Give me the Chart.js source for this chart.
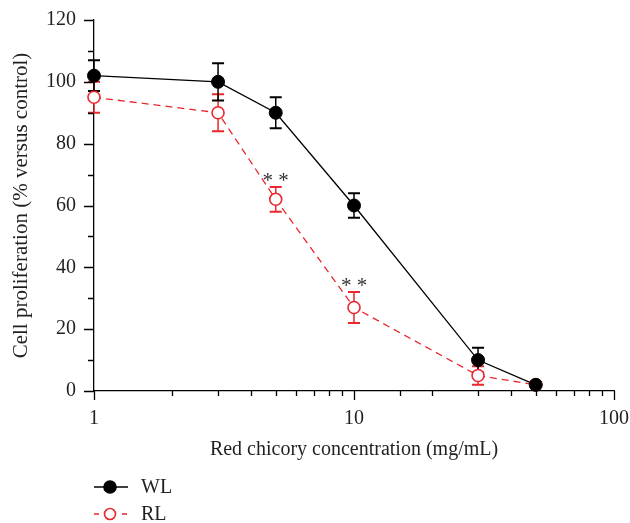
<!DOCTYPE html>
<html><head><meta charset="utf-8">
<script src="https://cdn.jsdelivr.net/npm/chart.js@4"></script>
<style>html,body{margin:0;padding:0;background:#fff}canvas{display:block}</style>
</head><body>
<canvas id="c" width="630" height="523"></canvas>
<script>
const concentrations = [1, 3, 5, 10, 30, 50];
const wlValues = [102, 100, 90, 60, 10, 2];
const wlErrors = [5, 6, 5, 4, 4, 0];
const rlValues = [95, 90, 62, 27, 5, 2];
const rlErrors = [5, 6, 4, 5, 3, 0];
const rlSignificance = ['', '', '**', '**', '', ''];
const seriesNames = ['WL', 'RL'];
const xTickLabels = [1, 10, 100];
const yTickLabels = [0, 20, 40, 60, 80, 100, 120];

const FONT = "'Liberation Serif', 'DejaVu Serif', serif";
const RED = '#e9272d';
const BLACK = '#000000';
const TEXT = '#231f20';

function toPoints(vals) { return concentrations.map((x, i) => ({x: x, y: vals[i]})); }

const errorBarPlugin = {
  id: 'errorBars',
  beforeDatasetsDraw(chart) {
    const ctx = chart.ctx, xs = chart.scales.x, ys = chart.scales.y;
    const sets = [[rlValues, rlErrors, RED], [wlValues, wlErrors, BLACK]];
    ctx.save();
    sets.forEach(([vals, errs, col]) => {
      ctx.strokeStyle = col;
      vals.forEach((v, i) => {
        if (!errs[i]) return;
        const x = xs.getPixelForValue(concentrations[i]);
        const yt = ys.getPixelForValue(v + errs[i]);
        const yb = ys.getPixelForValue(v - errs[i]);
        ctx.lineWidth = 1.5;
        ctx.beginPath(); ctx.moveTo(x, yt); ctx.lineTo(x, yb); ctx.stroke();
        ctx.lineWidth = 2;
        ctx.beginPath(); ctx.moveTo(x - 6, yt); ctx.lineTo(x + 6, yt);
        ctx.moveTo(x - 6, yb); ctx.lineTo(x + 6, yb); ctx.stroke();
      });
    });
    ctx.restore();
  },
  afterDatasetsDraw(chart) {
    const ctx = chart.ctx, xs = chart.scales.x, ys = chart.scales.y;
    ctx.save();
    ctx.fillStyle = '#333';
    ctx.font = '21px ' + FONT;
    ctx.textAlign = 'center';
    ctx.textBaseline = 'alphabetic';
    rlSignificance.forEach((s, i) => {
      if (!s) return;
      const x = xs.getPixelForValue(concentrations[i]);
      const y = ys.getPixelForValue(rlValues[i] + rlErrors[i]);
      ctx.fillText(s.split('').join(' '), x, y);
    });
    ctx.restore();
  }
};

const ticksPlugin = {
  id: 'axisTicks',
  afterDraw(chart) {
    const ctx = chart.ctx, xs = chart.scales.x, ys = chart.scales.y;
    ctx.save();
    ctx.strokeStyle = BLACK;
    ctx.lineWidth = 1.3;
    ctx.beginPath();
    xs.ticks.forEach(t => {
      const px = Math.round(xs.getPixelForValue(t.value)) + 0.5;
      const len = xTickLabels.includes(t.value) ? 9 : 5;
      ctx.moveTo(px, xs.top); ctx.lineTo(px, xs.top + len);
    });
    ys.ticks.forEach(t => {
      const py = Math.round(ys.getPixelForValue(t.value)) + 0.5;
      const len = yTickLabels.includes(t.value) ? 10 : 6;
      ctx.moveTo(ys.right - len, py); ctx.lineTo(ys.right, py);
    });
    ctx.stroke();
    // legend
    const lx = chart.chartArea.left;
    const rows = [
      {name: seriesNames[0], y: chart.height - 36, color: BLACK, dash: [], fill: BLACK, r: 6},
      {name: seriesNames[1], y: chart.height - 9, color: RED, dash: [5, 9], fill: '#ffffff', r: 5.5}
    ];
    rows.forEach(r => {
      ctx.strokeStyle = r.color;
      ctx.lineWidth = 1.3;
      ctx.setLineDash(r.dash);
      ctx.beginPath(); ctx.moveTo(lx, r.y); ctx.lineTo(lx + 34, r.y); ctx.stroke();
      ctx.setLineDash([]);
      ctx.beginPath(); ctx.arc(lx + 16, r.y, r.r, 0, Math.PI * 2);
      ctx.fillStyle = r.fill; ctx.fill();
      ctx.lineWidth = 1.6; ctx.stroke();
      ctx.fillStyle = TEXT;
      ctx.font = '20px ' + FONT;
      ctx.textAlign = 'left'; ctx.textBaseline = 'middle';
      ctx.fillText(r.name, lx + 47, r.y + 1);
    });
    ctx.restore();
  }
};

new Chart(document.getElementById('c'), {
  type: 'line',
  data: {
    datasets: [
      {
        label: seriesNames[0], data: toPoints(wlValues),
        borderColor: BLACK, borderWidth: 1.3, tension: 0,
        pointRadius: 6.5, pointBackgroundColor: BLACK, pointBorderColor: BLACK, pointBorderWidth: 1,
        clip: false
      },
      {
        label: seriesNames[1], data: toPoints(rlValues),
        borderColor: RED, borderWidth: 1.3, borderDash: [7, 5], tension: 0,
        pointRadius: 6, pointBackgroundColor: '#ffffff', pointBorderColor: RED, pointBorderWidth: 1.6,
        clip: false
      }
    ]
  },
  options: {
    responsive: false,
    animation: false,
    events: [],
    layout: {padding: {top: 20, right: 16, left: 0, bottom: 0}},
    plugins: {legend: {display: false}, tooltip: {enabled: false}},
    scales: {
      x: {
        type: 'logarithmic', min: 1, max: 100,
        grid: {display: false, drawTicks: true, tickLength: 16},
        border: {display: true, color: BLACK, width: 1.3},
        ticks: {
          autoSkip: false, maxRotation: 0, padding: 0, color: TEXT,
          font: {family: FONT, size: 20},
          callback: (v) => xTickLabels.includes(v) ? String(v) : ''
        },
        title: {display: true, text: 'Red chicory concentration (mg/mL)', color: TEXT,
          font: {family: FONT, size: 20}, padding: {top: 0, bottom: 61}},
        afterFit: (s) => { s.height = 132; }
      },
      y: {
        min: 0, max: 120,
        grid: {display: false, drawTicks: true, tickLength: 18},
        border: {display: true, color: BLACK, width: 1.3},
        ticks: {
          stepSize: 10, padding: 0, color: TEXT,
          font: {family: FONT, size: 20},
          callback: (v) => yTickLabels.includes(v) ? String(v) : ''
        },
        title: {display: true, text: 'Cell proliferation (% versus control)', color: TEXT,
          font: {family: FONT, size: 21}, padding: {top: 9, bottom: 0}},
        afterFit: (s) => { s.width = 94; }
      }
    }
  },
  plugins: [errorBarPlugin, ticksPlugin]
});
</script>
</body></html>
